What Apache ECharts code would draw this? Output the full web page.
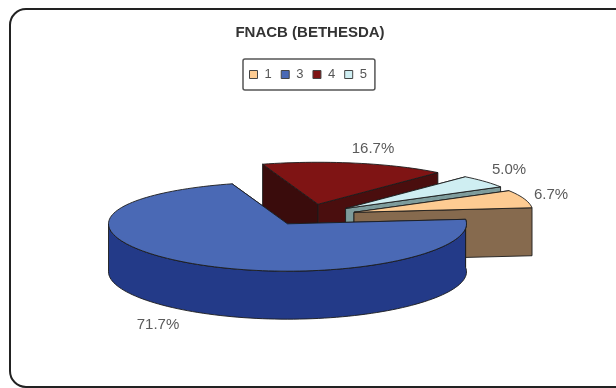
<!DOCTYPE html>
<html>
<head>
<meta charset="utf-8">
<style>html,body{margin:0;padding:0;background:#fff}#c{width:616px;height:388px}</style>
<script src="https://cdn.jsdelivr.net/npm/echarts@6/dist/echarts.min.js"></script>
</head>
<body>
<div id="c"></div>
<script>
// Cytology categories and their shares, in percent
const categories = ['1', '3', '4', '5'];
const shares = [6.7, 71.7, 16.7, 5.0];
const chartTitle = 'FNACB (BETHESDA)';

// Face colours per category: top, first cut wall, second cut wall, rim
const palette = {
  '1': { top: '#fdcb92', cutA: '#866a4e', cutB: '#866a4e', rim: '#866a4e' },
  '3': { top: '#4a69b5', cutA: '#233a88', cutB: '#233a88', rim: '#233a88' },
  '4': { top: '#7f1414', cutA: '#3a0c0c', cutB: '#4a0e0e', rim: '#3a0c0c' },
  '5': { top: '#cfeef2', cutA: '#7e9c9c', cutB: '#7e9c9c', rim: '#7e9c9c' }
};

// Pie geometry in pixels; angles run clockwise from 12 o'clock
const pie = { cx: 308, cy: 216, rx: 179, ry: 44.5, depth: 48, tilt: 0.06, firstAngle: 60 };
const explode = { '1': 0.27, '3': 0.21, '4': 0.27, '5': 0.27 };
const stacking = { '4': 1, '5': 2, '1': 3, '3': 4 };
const labelAt = { '1': [551, 195], '3': [158, 325], '4': [373, 149], '5': [509, 170] };

const total = shares.reduce((a, b) => a + b, 0);
const rad = d => d * Math.PI / 180;

function point(apex, deg, drop) {
  const v = Math.cos(rad(deg));
  return [apex[0] + pie.rx * Math.sin(rad(deg)),
          apex[1] - pie.ry * v / (1 + pie.tilt * v) + (drop || 0)];
}

function face(points, fill) {
  return {
    type: 'polygon',
    shape: { points },
    style: { fill, stroke: '#1c1c1c', lineWidth: 0.9, lineJoin: 'round' }
  };
}

function sweep(from, to) {
  const steps = [];
  for (let a = from; a < to; a += 2) steps.push(a);
  steps.push(to);
  return steps;
}

function sliceShapes(index) {
  const name = categories[index];
  const colors = palette[name];
  const before = shares.slice(0, index).reduce((a, b) => a + b, 0);
  const from = pie.firstAngle + before / total * 360;
  const to = from + shares[index] / total * 360;
  const mid = (from + to) / 2;
  const e = explode[name];
  const apex = [pie.cx + e * pie.rx * Math.sin(rad(mid)),
                pie.cy - e * pie.ry * Math.cos(rad(mid))];

  const topRing = sweep(from, to).map(a => point(apex, a, 0));
  const drop = p => [p[0], p[1] + pie.depth];
  const first = topRing[0];
  const last = topRing[topRing.length - 1];

  const cutA = face([apex, first, drop(first), drop(apex)], colors.cutA);
  const cutB = face([apex, last, drop(last), drop(apex)], colors.cutB);
  const top = face([apex].concat(topRing), colors.top);

  // The rim only shows on slices facing the viewer; it stops at 9 o'clock
  const front = Math.cos(rad(mid)) < 0;
  let walls = [cutA, cutB];
  if (front) {
    const seen = sweep(from, Math.min(to, 270));
    const upper = seen.map(a => point(apex, a, 0));
    const lower = seen.map(a => point(apex, a, pie.depth)).reverse();
    walls = [cutA, cutB, face(upper.concat(lower), colors.rim)];
  }

  const label = {
    type: 'text',
    style: {
      x: labelAt[name][0], y: labelAt[name][1],
      text: shares[index].toFixed(1) + '%',
      fill: '#5a5a5a',
      font: '15px "Liberation Sans", Arial, sans-serif',
      align: 'center', verticalAlign: 'middle'
    }
  };
  return { type: 'group', children: walls.concat([top, label]) };
}

const chart = echarts.init(document.getElementById('c'), null, { renderer: 'canvas' });
chart.setOption({
  animation: false,
  backgroundColor: '#ffffff',
  title: {
    text: chartTitle,
    left: 310, top: 25, textAlign: 'center', padding: 0,
    textStyle: { fontFamily: '"Liberation Sans", Arial, sans-serif', fontSize: 15, fontWeight: 'bold', color: '#333' }
  },
  legend: {
    data: categories,
    left: 243, top: 59, orient: 'horizontal',
    padding: [9, 8, 9, 6], itemWidth: 8, itemHeight: 8, itemGap: 9,
    borderColor: '#555', borderWidth: 1.5, borderRadius: 2,
    selectedMode: false, icon: 'rect',
    textStyle: { fontFamily: '"Liberation Sans", Arial, sans-serif', fontSize: 13, color: '#555', padding: [0, 0, 0, 2] },
    itemStyle: { borderColor: '#444', borderWidth: 1 }
  },
  graphic: [{
    type: 'rect', z: -1,
    shape: { x: 10, y: 9, width: 640, height: 378, r: 16 },
    style: { fill: 'none', stroke: '#222', lineWidth: 2 }
  }],
  series: categories.map((name, i) => ({
    type: 'custom',
    name,
    coordinateSystem: 'none',
    z: 2 + stacking[name],
    silent: true,
    itemStyle: { color: palette[name].top },
    data: [[shares[i]]],
    renderItem: () => sliceShapes(i)
  }))
});
</script>
</body>
</html>
